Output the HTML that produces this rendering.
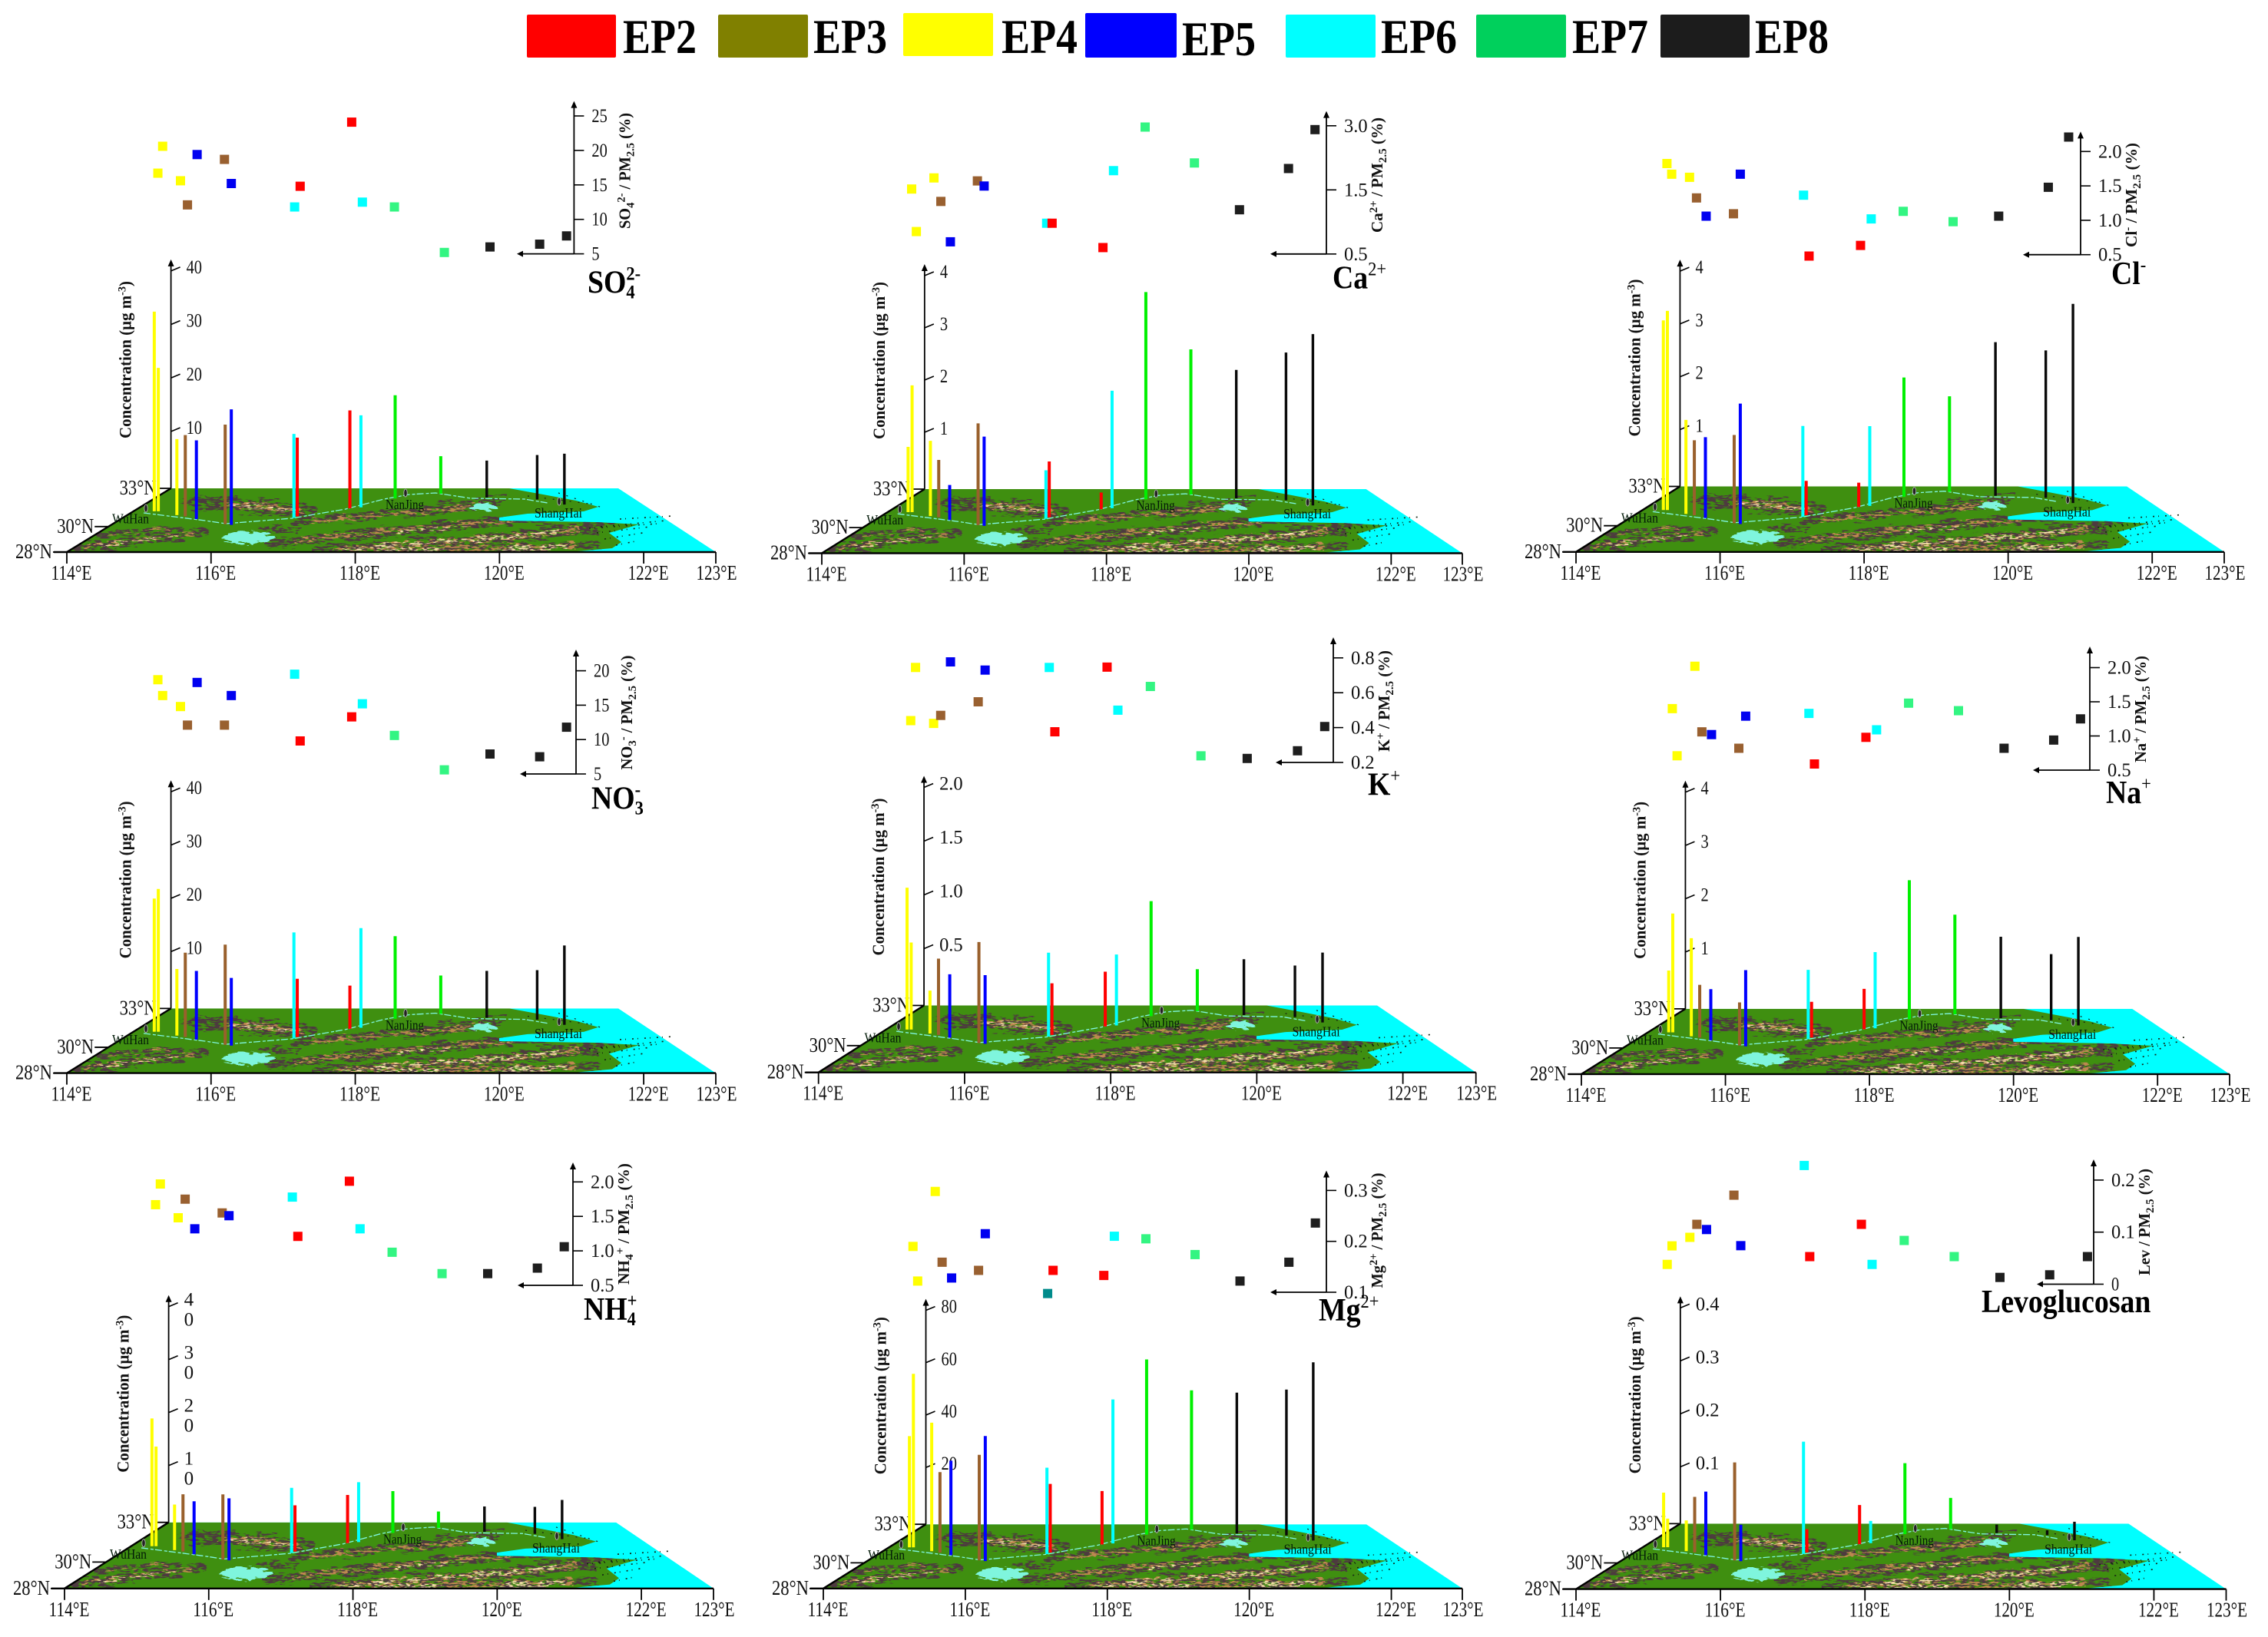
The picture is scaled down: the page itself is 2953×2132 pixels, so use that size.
<!DOCTYPE html>
<html lang="en">
<head>
<meta charset="utf-8">
<title>Spatial distribution of PM2.5 chemical species across episodes</title>
<style>
html,body{margin:0;padding:0;background:#fff;}
svg{display:block;font-family:"Liberation Serif",serif;}
.rd{fill:none;stroke:#4d3a3f;stroke-linecap:round;}
.rt{fill:none;stroke:#bd8850;stroke-linecap:round;}
.rh{fill:none;stroke:#f2dca8;stroke-linecap:round;}
</style>
</head>
<body>
<svg id="chart" xmlns="http://www.w3.org/2000/svg" width="2953" height="2132" viewBox="0 0 2953 2132">
<rect x="0" y="0" width="2953" height="2132" fill="#ffffff"/>
<defs>
<clipPath id="landClip"><path d="M0 83L135.6 0L576 0L620 8L663 16L692 24L673 30L600 33L563 38L563 42L690 44L745 47L706 58L722 70L710 78L653 83Z"/></clipPath>
<filter id="roughDark" x="-5%" y="-30%" width="110%" height="160%" color-interpolation-filters="sRGB">
<feTurbulence type="fractalNoise" baseFrequency="0.03 0.18" numOctaves="3" seed="4" result="n"/>
<feDisplacementMap in="SourceGraphic" in2="n" scale="16" xChannelSelector="R" yChannelSelector="G" result="d"/>
<feTurbulence type="fractalNoise" baseFrequency="0.11 0.42" numOctaves="2" seed="9" result="s"/>
<feColorMatrix in="s" type="matrix" values="0 0 0 0 0 0 0 0 0 0 0 0 0 0 0 0 0 0 10 -4.2" result="m"/>
<feComposite in="d" in2="m" operator="in"/>
</filter>
<filter id="roughTan" x="-5%" y="-30%" width="110%" height="160%" color-interpolation-filters="sRGB">
<feTurbulence type="fractalNoise" baseFrequency="0.04 0.22" numOctaves="3" seed="21" result="n"/>
<feDisplacementMap in="SourceGraphic" in2="n" scale="14" xChannelSelector="R" yChannelSelector="G" result="d"/>
<feTurbulence type="fractalNoise" baseFrequency="0.13 0.5" numOctaves="2" seed="33" result="s"/>
<feColorMatrix in="s" type="matrix" values="0 0 0 0 0 0 0 0 0 0 0 0 0 0 0 0 0 0 10 -4.6" result="m"/>
<feComposite in="d" in2="m" operator="in"/>
</filter>
<filter id="roughLake" x="-20%" y="-40%" width="140%" height="180%" color-interpolation-filters="sRGB">
<feTurbulence type="fractalNoise" baseFrequency="0.09 0.3" numOctaves="2" seed="12" result="n"/>
<feDisplacementMap in="SourceGraphic" in2="n" scale="12" xChannelSelector="R" yChannelSelector="G"/>
</filter>
<symbol id="terrain" viewBox="0 0 845 83" preserveAspectRatio="none">
<polygon points="0,83 135.6,0 718,0 845,83" fill="#00ffff"/>
<path d="M0 83L135.6 0L576 0L620 8L663 16L692 24L673 30L600 33L563 38L563 42L690 44L745 47L706 58L722 70L710 78L653 83Z" fill="#3f8f10"/>
<g clip-path="url(#landClip)">
<g filter="url(#roughDark)">
<path class="rd" stroke-width="10" d="M13 78C60 70 110 66 176 58"/>
<path class="rd" stroke-width="6" d="M40 60L150 52"/>
<path class="rd" stroke-width="4" d="M5 82L90 74"/>
<path class="rd" stroke-width="17" d="M168 19C210 20 260 24 315 30"/>
<path class="rd" stroke-width="4" d="M150 14L220 12"/>
<path class="rd" stroke-width="10" d="M300 44C380 36 470 30 560 20"/>
<path class="rd" stroke-width="13" d="M265 74C350 60 480 52 620 38"/>
<path class="rd" stroke-width="13" d="M330 82C450 72 560 66 690 52"/>
<path class="rd" stroke-width="10" d="M395 82L690 74"/>
<path class="rd" stroke-width="5" d="M620 50L720 46"/>
<path class="rd" stroke-width="4" d="M480 18L570 12"/>
<path class="rd" stroke-width="5" d="M250 50L300 56"/>
</g>
<g filter="url(#roughTan)">
<path class="rt" stroke-width="5" d="M22 77C60 70 110 66 165 59"/>
<path class="rt" stroke-width="2.5" d="M55 59L135 53"/>
<path class="rt" stroke-width="9" d="M205 21C240 23 270 25 305 29"/>
<path class="rt" stroke-width="4.5" d="M320 43C380 36 470 30 535 22"/>
<path class="rt" stroke-width="6" d="M300 70C350 60 480 52 590 41"/>
<path class="rt" stroke-width="7" d="M350 81C450 72 560 66 665 54"/>
<path class="rt" stroke-width="7" d="M400 82L660 75"/>
<path class="rh" stroke-width="4" d="M215 22C240 24 270 26 298 29"/>
<path class="rh" stroke-width="2" d="M40 75C80 70 110 66 150 61"/>
<path class="rh" stroke-width="3" d="M360 80C450 71 560 66 650 56"/>
<path class="rh" stroke-width="4" d="M405 82L490 80M560 79L650 76"/>
<path class="rh" stroke-width="2" d="M430 57L520 49"/>
</g>
<path fill="none" stroke="#7ff5dd" stroke-width="1.3" stroke-dasharray="9 3 4 2" d="M100 32L180 42L207 46L293 39L363 27L413 14L446 8L480 6L526 13L596 14L626 19"/>
<g filter="url(#roughLake)">
<ellipse cx="235" cy="64" rx="34" ry="8" fill="#7ff5dd"/>
<ellipse cx="544" cy="24" rx="20" ry="4.5" fill="#7ff5dd"/>
</g>
</g>
<path fill="#00ffff" d="M563 38L600 34L676 31L670 36L640 39L563 41Z"/>
<path fill="none" stroke="#142414" stroke-width="1.6" stroke-dasharray="2 5 1 8" d="M695 50L780 42M690 58L760 50M700 66L750 58M720 40L790 36M715 74L745 68M680 52L770 46"/>
<path fill="none" stroke="#142414" stroke-width="1.2" stroke-dasharray="2 9" d="M600 10L680 20M640 6L700 26"/>
</symbol>
</defs>
<g id="root"></g>
</svg>
<script>
// Categories
const episodes = ['EP2','EP3','EP4','EP5','EP6','EP7','EP8'];
const siteEpisode = ['EP4','EP4','EP4','EP3','EP5','EP3','EP5','EP6','EP2','EP2','EP6','EP7','EP7','EP8','EP8','EP8'];
const siteLon = [114.36,114.43,114.84,115.01,115.25,115.81,115.92,116.85,116.89,117.73,117.92,118.52,119.40,120.25,121.17,121.58];
const siteLat = [31.20,31.20,30.90,30.80,30.59,30.19,30.13,30.68,30.80,31.43,31.51,32.20,32.58,32.28,32.13,31.73];
const siteMarkerLonShift = [0.05,0.06,0.05,0.03,0.01,-0.01,0.00,0.01,0.04,0.025,0.02,-0.01,0.05,0.045,0.035,0.03];

// Concentration (ug m-3) per site
const so4Conc = [37.3,26.8,14.2,15.2,14.7,18.6,21.6,15.7,14.7,18.3,17.2,19.3,7.0,6.9,8.3,9.5];
const caConc = [1.25,2.43,1.44,1.10,0.67,1.95,1.71,0.93,1.07,0.32,2.25,3.97,2.78,2.46,2.83,3.28];
const clConc = [3.59,3.77,1.78,1.42,1.53,1.67,2.28,1.72,0.65,0.46,1.51,2.26,1.81,2.91,2.79,3.77];
const no3Conc = [25.0,26.8,12.5,15.8,12.9,18.8,12.7,19.9,10.9,8.1,18.7,15.5,7.2,8.8,9.3,14.9];
const kConc = [1.32,0.81,0.40,0.71,0.59,0.94,0.64,0.78,0.48,0.51,0.66,1.07,0.39,0.52,0.48,0.65];
const naConc = [1.16,2.23,1.84,0.99,0.96,0.81,1.43,1.30,0.67,0.76,1.43,2.61,1.87,1.53,1.24,1.66];
const nh4Conc = [24.1,18.8,8.6,10.8,10.0,12.3,11.7,12.3,8.7,9.1,11.3,7.9,3.1,4.8,5.1,7.4];
const mgConc = [42.5,66.3,49.1,30.7,36.1,40.3,47.8,33.0,26.2,20.4,55.0,66.9,53.2,53.8,55.7,68.1];
const levConc = [0.103,0.054,0.058,0.105,0.120,0.185,0.069,0.212,0.044,0.074,0.042,0.134,0.059,0.016,0.009,0.035];

// Species share of PM2.5 (%) per site
const so4Ratio = [16.7,20.6,15.6,12.1,19.4,18.7,15.2,11.8,14.8,24.1,12.5,11.8,5.2,6.0,6.4,7.6];
const caRatio = [1.52,0.85,1.78,1.32,0.69,1.71,1.59,0.98,0.98,0.60,1.95,2.97,2.13,1.19,2.00,2.91];
const clRatio = [1.825,1.67,1.625,1.325,1.06,1.095,1.67,1.365,0.48,0.635,1.02,1.13,0.98,1.06,1.48,2.21];
const no3Ratio = [18.7,16.4,14.8,12.1,18.3,12.1,16.4,19.5,9.8,13.3,15.2,10.6,5.6,7.9,7.5,11.8];
const kRatio = [0.44,0.745,0.424,0.47,0.777,0.548,0.73,0.745,0.376,0.747,0.50,0.636,0.238,0.223,0.267,0.406];
const naRatio = [1.40,0.71,2.02,1.06,1.02,0.82,1.29,1.33,0.59,0.98,1.09,1.48,1.37,0.82,0.94,1.25];
const nh4Ratio = [1.67,1.97,1.48,1.75,1.32,1.55,1.51,1.78,1.21,2.01,1.32,0.98,0.67,0.67,0.75,1.06];
const mgRatio = [0.19,0.122,0.298,0.159,0.128,0.143,0.215,0.0975,0.143,0.133,0.21,0.205,0.174,0.122,0.159,0.236];
const levRatio = [0.038,0.0736,0.09,0.115,0.105,0.171,0.074,0.228,0.053,0.115,0.038,0.084,0.053,0.013,0.018,0.053];

// Tick labels
const concTicks40 = ['10','20','30','40'];
const concTicks4 = ['1','2','3','4'];
const concTicks2 = ['0.5','1.0','1.5','2.0'];
const concTicks80 = ['20','40','60','80'];
const concTicks04 = ['0.1','0.2','0.3','0.4'];
const so4RatioTicks = ['5','10','15','20','25'];
const caRatioTicks = ['0.5','1.5','3.0'];
const clRatioTicks = ['0.5','1.0','1.5','2.0'];
const no3RatioTicks = ['5','10','15','20'];
const kRatioTicks = ['0.2','0.4','0.6','0.8'];
const mgRatioTicks = ['0.1','0.2','0.3'];
const levRatioTicks = ['0','0.1','0.2'];
const lonTicks = [114,116,118,120,122,123];
const latTicks = [28,30,33];
const cities = ['WuHan','NanJing','ShangHai'];

// Styling & layout
const barColor = {EP2:'#ff0000',EP3:'#99602c',EP4:'#ffff00',EP5:'#0000ff',EP6:'#00ffff',EP7:'#00f000',EP8:'#0a0a0a'};
const markerColor = {EP2:'#ff0000',EP3:'#996030',EP4:'#ffff00',EP5:'#0000f0',EP6:'#00ffff',EP7:'#33f582',EP8:'#1e1e1e'};
const legendColor = {EP2:'#ff0000',EP3:'#808000',EP4:'#ffff00',EP5:'#0000ff',EP6:'#00ffff',EP7:'#00d05c',EP8:'#1c1c1c'};
const legendLayout = [[686,19,116,56,811,69,96],[935,19,117,56,1059,69,96],[1176,17,117,56,1304,69,99],[1413,17,119,58,1539,72,96],[1674,19,117,56,1798,69,99],[1922,19,117,56,2047,69,99],[2162,19,116,56,2285,69,96]];
const panels = [
 {id:'so4',conc:so4Conc,ratio:so4Ratio,concTicks:concTicks40,ratioTicks:so4RatioTicks,x0:87,w:845,top:636,base:719,cs:69.7,ax:747.4,ab:330.6,as:44.9,at:131.6,al:673,tb:'SO',sub:'4',sup:'2-',tx:765,ty:381.6,rt:[['SO'],['4','b'],['2-','p'],[' / PM'],['2.5','b'],[' (%)']],rb:298,rl:151},
 {id:'ca',conc:caConc,ratio:caRatio,concTicks:concTicks4,ratioTicks:caRatioTicks,x0:1070,w:834,top:637,base:720.5,cs:68,ax:1727,ab:330.8,as:83.5,at:144.6,al:1654,tb:'Ca',sub:'',sup:'2+',tx:1735,ty:375.4,rt:[['Ca'],['2+','p'],[' / PM'],['2.5','b'],['  (%)']],rb:303,rl:150},
 {id:'cl',conc:clConc,ratio:clRatio,concTicks:concTicks4,ratioTicks:clRatioTicks,k3:-0.09,x0:2052,w:844,top:633.5,base:718.8,cs:68.8,ax:2709,ab:331.7,as:44.8,at:171.4,al:2634,tb:'Cl',sub:'',sup:'-',tx:2749,ty:370,rt:[['Cl'],['-','p'],[' /  PM'],['2.5','b'],[' (%)']],rb:322,rl:136},
 {id:'no3',conc:no3Conc,ratio:no3Ratio,concTicks:concTicks40,ratioTicks:no3RatioTicks,x0:87,w:845,top:1313.4,base:1397.6,cs:69.4,ax:750,ab:1008,as:44.8,at:846,al:677,tb:'NO',sub:'3',sup:'-',tx:770,ty:1053.7,rt:[['NO'],['3','b'],['-','p'],[' / PM'],['2.5','b'],[' (%)']],rb:1002.5,rl:149},
 {id:'k',conc:kConc,ratio:kRatio,concTicks:concTicks2,ratioTicks:kRatioTicks,x0:1065.7,w:856,top:1309.5,base:1396.7,cs:70,ax:1736,ab:993,as:45.4,at:830,al:1661,tb:'K',sub:'',sup:'+',tx:1781,ty:1035.5,rt:[['K'],['+','p'],[' / PM'],['2.5','b'],[' (%)']],rb:979,rl:132},
 {id:'na',conc:naConc,ratio:naRatio,concTicks:concTicks4,ratioTicks:clRatioTicks,x0:2059,w:844,top:1313.9,base:1398.9,cs:69.4,ax:2721,ab:1003,as:44.5,at:842,al:2647,tb:'Na',sub:'',sup:'+',tx:2742,ty:1046,rt:[['Na'],['+','p'],[' / PM'],['2.5','b'],[' (%)']],rb:993,rl:139},
 {id:'nh4',conc:nh4Conc,ratio:nh4Ratio,concTicks:concTicks40,ratioTicks:clRatioTicks,stack:true,x0:84,w:845,top:1982.7,base:2068.8,cs:69,ax:746,ab:1674,as:44.9,at:1514,al:674,tb:'NH',sub:'4',sup:'+',tx:760,ty:1719,rt:[['NH'],['4','b'],['+','p'],[' / PM'],['2.5','b'],[' (%)']],rb:1673,rl:158},
 {id:'mg',conc:mgConc,ratio:mgRatio,concTicks:concTicks80,ratioTicks:mgRatioTicks,teal:7,x0:1072,w:832,top:1985.2,base:2068.8,cs:68.2,ax:1727,ab:1683,as:66.3,at:1524.5,al:1654,tb:'Mg',sub:'',sup:'2+',tx:1717,ty:1720,rt:[['Mg'],['2+','p'],[' / PM'],['2.5','b'],[' (%)']],rb:1677.5,rl:150},
 {id:'lev',conc:levConc,ratio:levRatio,concTicks:concTicks04,ratioTicks:levRatioTicks,k3:0.15,x0:2052,w:846.5,top:1984.4,base:2069.6,cs:69,ax:2726,ab:1672.5,as:67.8,at:1510,al:2652,tb:'Levoglucosan',sub:'',sup:'',tx:2580,ty:1709,rt:[['Lev / PM'],['2.5','b'],[' (%)']],rb:1661,rl:139}
];

const NS = 'http://www.w3.org/2000/svg';
const root = document.getElementById('root');
function make(tag, parent, attrs, text){
  const el = document.createElementNS(NS, tag);
  for (const k in attrs) el.setAttribute(k, attrs[k]);
  if (text !== undefined) el.textContent = text;
  parent.appendChild(el);
  return el;
}
function spans(textEl, parts){
  let cur = 0;
  parts.forEach(function(p){
    const target = p[1] === 'b' ? 5 : (p[1] === 'p' ? -7 : 0);
    const a = {dy: target - cur};
    if (p[1]) a['font-size'] = 15;
    make('tspan', textEl, a, p[0]);
    cur = target;
  });
}

// Legend
episodes.forEach(function(ep, i){
  const L = legendLayout[i];
  const sw = make('rect', root, {x:L[0],y:L[1],width:L[2],height:L[3],rx:2,fill:legendColor[ep]});
  
  
  const tx = make('text', root, {x:L[4],y:L[5],'font-size':64,'font-weight':'bold',textLength:L[6],lengthAdjust:'spacingAndGlyphs',fill:'#000'}, ep);
  
  
});

panels.forEach(function(P){
  const H = P.base - P.top;
  const sx = P.w / 845;
  const g = make('g', root, {});
  
  

  const leftInset = 135.6 * sx;
  const rightInset = 127 * sx;
  const axisX = P.x0 + leftInset;
  function projX(lon, lat){
    const t = (lat - 28) / 5;
    const xL = P.x0 + leftInset * t;
    const xR = P.x0 + P.w - rightInset * t;
    return xL + (lon - 114) / 9 * (xR - xL);
  }
  function projY(lat){ return P.base - (lat - 28) / 5 * H; }
  const ppu = P.cs / parseFloat(P.concTicks[0]);
  function concPx(v){ return v * ppu; }
  function ratioY(v){
    const vals = P.ratioTicks.map(Number);
    let i = 0;
    while (i < vals.length - 2 && v > vals[i + 1]) i++;
    return P.ab - (i + (v - vals[i]) / (vals[i + 1] - vals[i])) * P.as;
  }

  // Terrain
  const map = make('use', g, {href:'#terrain',x:P.x0,y:P.top,width:P.w,height:H});
  
  

  // Base axes
  const bx = make('line', g, {x1:P.x0 - 17,y1:P.base,x2:P.x0 + P.w,y2:P.base,stroke:'#000','stroke-width':2.4});
  
  
  const by = make('line', g, {x1:P.x0,y1:P.base,x2:axisX,y2:P.top,stroke:'#000','stroke-width':2.4});
  
  

  lonTicks.forEach(function(lon){
    const x = P.x0 + (lon - 114) / 9 * P.w;
    const tk = make('line', g, {x1:x,y1:P.base,x2:x,y2:P.base + 15,stroke:'#000','stroke-width':1.8});
    
    
    const lb = make('text', g, {x:x + (lon === 123 ? 1 : 6),y:P.base + 36,'font-size':27,'text-anchor':'middle',textLength:53,lengthAdjust:'spacingAndGlyphs',fill:'#111'}, lon + '°E');
    
    
  });
  latTicks.forEach(function(lat){
    const t = (lat - 28) / 5;
    const y = P.base - t * H;
    const x = P.x0 + leftInset * t;
    const tk = make('line', g, {x1:x - 18,y1:y,x2:x,y2:y,stroke:'#000','stroke-width':1.8});
    
    
    const lb = make('text', g, {x:x - 19,y:y + 8,'font-size':27,'text-anchor':'end',textLength:48,lengthAdjust:'spacingAndGlyphs',fill:'#111'}, lat + '°N');
    
    
  });

  // City pins and names
  const cityLayout = {WuHan:[103,26,59,45.7,48],NanJing:[441,6,415,27,50],ShangHai:[641,17,609,38,62]};
  cities.forEach(function(c){
    const L = cityLayout[c];
    const pin = make('ellipse', g, {cx:P.x0 + L[0] * sx,cy:P.top + L[1] * H / 83,rx:2.2,ry:5,fill:'#222',stroke:'#bbb','stroke-width':0.8});
    
    
    const tx = make('text', g, {x:P.x0 + L[2] * sx,y:P.top + L[3] * H / 83,'font-size':18,textLength:L[4],lengthAdjust:'spacingAndGlyphs',fill:'#021a08'}, c);
    
    
  });

  // Concentration axis
  const firstTick = P.top - 74;
  const nT = P.concTicks.length;
  const arrowTop = firstTick - (nT - 1) * P.cs - 15;
  const cAxis = make('line', g, {x1:axisX,y1:P.top,x2:axisX,y2:arrowTop + 4,stroke:'#000','stroke-width':1.8});
  
  
  const cArrow = make('polygon', g, {points:(axisX - 4) + ',' + (arrowTop + 9) + ' ' + axisX + ',' + arrowTop + ' ' + (axisX + 4) + ',' + (arrowTop + 9),fill:'#000'});
  
  
  P.concTicks.forEach(function(label, k){
    const y = firstTick - k * P.cs;
    const tk = make('line', g, {x1:axisX,y1:y,x2:axisX + 12,y2:y - 5,stroke:'#000','stroke-width':1.6});
    
    
    if (P.stack) {
      const a = make('text', g, {x:axisX + 20,y:y - 1,'font-size':25,fill:'#111'}, label.charAt(0));
      
      
      const b = make('text', g, {x:axisX + 20,y:y + 25,'font-size':25,fill:'#111'}, label.charAt(1));
      
      
    } else {
      const tx = make('text', g, {x:axisX + 20,y:y + 3,'font-size':25,fill:'#111',textLength:label.length * 10.2,lengthAdjust:'spacingAndGlyphs'}, label);
      
      
    }
  });
  const cTitle = make('text', g, {transform:'translate(' + (axisX - 52) + ',' + (P.top - 65) + ') rotate(-90)','font-size':22,'font-weight':'bold',textLength:205,lengthAdjust:'spacingAndGlyphs',fill:'#111'});
  
  
  spans(cTitle, [['Concentration (µg m'],['-3','p'],[')']]);

  // Bars
  siteLon.forEach(function(lon, i){
    const x = projX(lon, siteLat[i]);
    const y = projY(siteLat[i]);
    const ep = siteEpisode[i];
    const bar = make('line', g, {x1:x,y1:y,x2:x,y2:y - concPx(P.conc[i]),stroke:barColor[ep],'stroke-width':ep === 'EP8' ? 3.4 : 4});
    
    
  });

  // Ratio axis
  const rAxis = make('line', g, {x1:P.ax,y1:P.ab,x2:P.ax,y2:P.at + 4,stroke:'#000','stroke-width':1.8});
  
  
  const rArrow = make('polygon', g, {points:(P.ax - 4) + ',' + (P.at + 9) + ' ' + P.ax + ',' + P.at + ' ' + (P.ax + 4) + ',' + (P.at + 9),fill:'#000'});
  
  
  const rLon = make('line', g, {x1:P.ax,y1:P.ab,x2:P.al + 4,y2:P.ab,stroke:'#000','stroke-width':1.8});
  
  
  const rLonArrow = make('polygon', g, {points:(P.al + 8) + ',' + (P.ab - 4) + ' ' + P.al + ',' + P.ab + ' ' + (P.al + 8) + ',' + (P.ab + 4),fill:'#000'});
  
  
  P.ratioTicks.forEach(function(label, k){
    const y = P.ab - k * P.as;
    const tk = make('line', g, {x1:P.ax,y1:y,x2:P.ax + 13,y2:y,stroke:'#000','stroke-width':1.6});
    
    
    const tx = make('text', g, {x:P.ax + 23,y:y + 8,'font-size':25,fill:'#111',textLength:label.length * 10.2,lengthAdjust:'spacingAndGlyphs'}, label);
    
    
  });
  const rTitle = make('text', g, {transform:'translate(' + (P.ax + 73) + ',' + P.rb + ') rotate(-90)','font-size':21,'font-weight':'bold',textLength:P.rl,lengthAdjust:'spacingAndGlyphs',fill:'#111'});
  
  
  spans(rTitle, P.rt);

  // Markers
  siteLon.forEach(function(lon, i){
    const ep = siteEpisode[i];
    let shift = siteMarkerLonShift[i];
    if (P.k3 && i === 15) shift += P.k3;
    const x = projX(lon, siteLat[i]) + shift * P.w / 9;
    const y = ratioY(P.ratio[i]);
    const color = (P.teal === i) ? '#008b8b' : markerColor[ep];
    const m = make('rect', g, {x:x - 6,y:y - 6,width:12,height:12,fill:color});
    
    
  });

  // Species title
  const tg = make('g', g, {transform:'translate(' + P.tx + ',' + P.ty + ') scale(0.9,1)'});
  
  
  const tb = make('text', tg, {x:0,y:0,'font-size':42,'font-weight':'bold',fill:'#000'}, P.tb);
  
  
  const w = tb.getComputedTextLength();
  if (P.sub) {
    const s = make('text', tg, {x:w,y:7,'font-size':25,'font-weight':'bold',fill:'#000'}, P.sub);
    
    
  }
  if (P.sup) {
    const s = make('text', tg, {x:w,y:-17,'font-size':25,'font-weight':P.sub ? 'bold' : 'normal',fill:'#000'}, P.sup);
    
    
  }
});
</script>
</body>
</html>
